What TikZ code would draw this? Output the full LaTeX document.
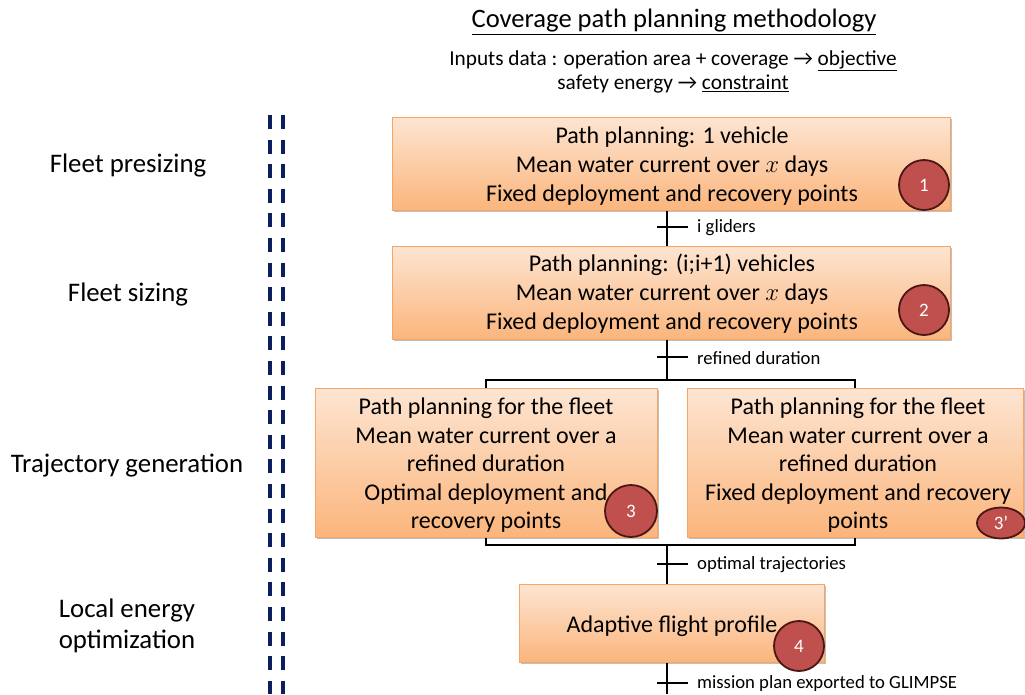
\documentclass[tikz,border=0pt]{standalone}
\usepackage{fontspec}
\setmainfont{Carlito}
\usetikzlibrary{shadows,shapes.geometric}
\definecolor{boxtop}{HTML}{FDE5D2}
\definecolor{boxbot}{HTML}{FBB57C}
\definecolor{boxedge}{HTML}{F8A462}
\definecolor{badgefill}{HTML}{C0504D}
\definecolor{badgeedge}{HTML}{4A1616}
\definecolor{navy}{HTML}{0B1F5E}
\tikzset{
  stage/.style={draw=boxedge, line width=1pt, top color=boxtop, bottom color=boxbot,
    drop shadow={shadow xshift=2pt, shadow yshift=-2pt, opacity=0.25, fill=black},
    align=center, inner sep=0pt},
  stagetext/.style={align=center, inner sep=0pt, font=\fontsize{24}{29}\selectfont},
  badge/.style={circle, draw=badgeedge, line width=1.8pt, fill=badgefill, text=white,
    minimum size=50pt, inner sep=0pt, font=\fontsize{19}{22}\selectfont},
  flow/.style={line width=2.4pt, black},
  tick/.style={line width=2.4pt, black},
  flowlabel/.style={anchor=west, inner sep=0pt, font=\fontsize{18.7}{22}\selectfont},
  phase/.style={align=center, font=\fontsize{26.8}{31}\selectfont, inner sep=0pt},
  divider/.style={navy, line width=4pt, dash pattern=on 14pt off 10.6pt},
}
\begin{document}
\begin{tikzpicture}[x=1pt,y=-1pt]
\useasboundingbox (0,0) rectangle (1025,694);
\fill[white] (0,0) rectangle (1025,694);

% heading
\node[font=\fontsize{26.6}{30}\selectfont] (title) at (674,22) {\underline{Coverage path planning methodology}};
\node[font=\fontsize{21.3}{24}\selectfont, align=center] (inputs) at (673,72)
  {Inputs data : operation area + coverage → \underline{objective}\\safety energy → \underline{constraint}};

% divider
\coordinate (dA1) at (270,115); \coordinate (dA2) at (270,694);
\coordinate (dB1) at (283,115); \coordinate (dB2) at (283,694);
\draw[divider] (dA1) -- (dA2);
\draw[divider] (dB1) -- (dB2);

% phase labels
\node[phase] (p1) at (128,165) {Fleet presizing};
\node[phase] (p2) at (128,294) {Fleet sizing};
\node[phase] (p3) at (127,466) {Trajectory generation};
\node[phase] (p4) at (127,626) {Local energy\\optimization};

% boxes
\node[stage, minimum width=558pt, minimum height=93pt] (b1) at (671,163.5) {};
\node[stagetext] (t1) at (672,166)
  {Path planning: 1 vehicle\\Mean water current over $x$ days\\Fixed deployment and recovery points};
\node[badge] (c1) at (924,185) {1};

\node[stage, minimum width=558pt, minimum height=93pt] (b2) at (671,292.5) {};
\node[stagetext] (t2) at (672,294)
  {Path planning: (i;i+1) vehicles\\Mean water current over $x$ days\\Fixed deployment and recovery points};
\node[badge] (c2) at (924,310) {2};

\node[stage, minimum width=342pt, minimum height=149pt] (b3) at (486,462.5) {};
\node[stagetext, font=\fontsize{24}{28.5}\selectfont] (t3) at (486,465.5)
  {Path planning for the fleet\\Mean water current over a\\refined duration\\Optimal deployment and\\recovery points};
\node[badge, minimum size=52pt] (c3) at (631,511) {3};

\node[stage, minimum width=336pt, minimum height=149pt] (b3p) at (855,462.5) {};
\node[stagetext, font=\fontsize{24}{28.5}\selectfont] (t3p) at (858,465.5)
  {Path planning for the fleet\\Mean water current over a\\refined duration\\Fixed deployment and recovery\\points};
\node[badge, ellipse, minimum width=48pt, minimum height=31pt] (c3p) at (1001,523) {3’};

\node[stage, minimum width=305pt, minimum height=78pt] (b4) at (671.5,623) {};
\node[stagetext] (t4) at (672,626) {Adaptive flight profile};
\node[badge] (c4) at (799,646) {4};

% spine
\coordinate (spine) at (667,0);
\coordinate (bot) at (667,694);

% connector 1 -> 2
\draw[flow] (b1.south -| spine) -- (b2.north -| spine);
\coordinate (k1) at (667,227);
\draw[tick] ([xshift=-10pt]k1) -- ([xshift=21pt]k1);
\node[flowlabel] (l1) at (697,228) {i gliders};

% connector 2 -> split
\coordinate (top3) at (667,380);
\draw[flow] (b2.south -| spine) -- (top3);
\coordinate (k2) at (667,357);
\draw[tick] ([xshift=-10pt]k2) -- ([xshift=21pt]k2);
\node[flowlabel] (l2) at (697,358) {refined duration};
\draw[flow] (b3.north) -- (b3.north |- top3) -- (b3p.north |- top3) -- (b3p.north);

% merge
\coordinate (bot3) at (667,545);
\draw[flow] (b3.south) -- (b3.south |- bot3) -- (b3p.south |- bot3) -- (b3p.south);
\draw[flow] (bot3) -- (b4.north -| spine);
\coordinate (k3) at (667,564);
\draw[tick] ([xshift=-10pt]k3) -- ([xshift=21pt]k3);
\node[flowlabel] (l3) at (697,565) {optimal trajectories};

% output
\draw[flow] (b4.south -| spine) -- (bot);
\coordinate (k4) at (667,683);
\draw[tick] ([xshift=-10pt]k4) -- ([xshift=21pt]k4);
\node[flowlabel] (l4) at (697,684) {mission plan exported to GLIMPSE};
\end{tikzpicture}
\end{document}
